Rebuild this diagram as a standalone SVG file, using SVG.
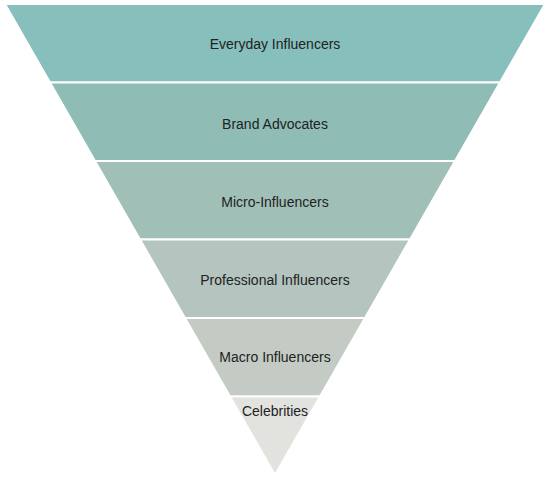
<svg xmlns="http://www.w3.org/2000/svg" width="550" height="478" viewBox="0 0 550 478">
<style>
.layer{stroke:#ffffff;stroke-width:2;stroke-linejoin:miter}
.lbl{font-family:"Liberation Sans",Arial,sans-serif;font-size:14px;fill:#222222;text-anchor:middle}
</style>
<rect width="550" height="478" fill="#ffffff"/>
<g id="everyday-influencers">
<polygon class="layer" fill="#86bfbb" points="5,4 545,4 500,82.5 50,82.5"/>
<text class="lbl" x="275" y="49">Everyday Influencers</text>
</g>
<g id="brand-advocates">
<polygon class="layer" fill="#8fbdb6" points="50,82.5 500,82.5 455,161 95,161"/>
<text class="lbl" x="275" y="129">Brand Advocates</text>
</g>
<g id="micro-influencers">
<polygon class="layer" fill="#a0bfb7" points="95,161 455,161 410,239.5 140,239.5"/>
<text class="lbl" x="275" y="207">Micro-Influencers</text>
</g>
<g id="professional-influencers">
<polygon class="layer" fill="#b3c5be" points="140,239.5 410,239.5 365,318 185,318"/>
<text class="lbl" x="275" y="285">Professional Influencers</text>
</g>
<g id="macro-influencers">
<polygon class="layer" fill="#c3cbc4" points="185,318 365,318 320,396.5 230,396.5"/>
<text class="lbl" x="275" y="362">Macro Influencers</text>
</g>
<g id="celebrities">
<polygon class="layer" fill="#e2e3de" points="230,396.5 320,396.5 275,475"/>
<text class="lbl" x="275" y="416">Celebrities</text>
</g>
<g id="connectors"></g>
</svg>
